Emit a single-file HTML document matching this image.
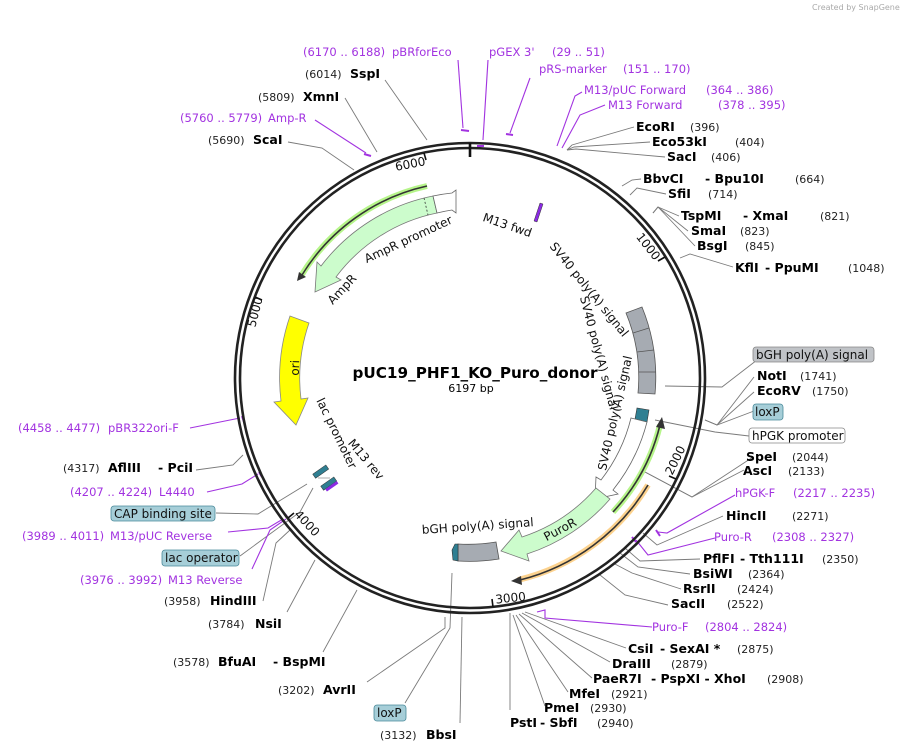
<!DOCTYPE html>
<html><head><meta charset="utf-8"><style>
html,body{margin:0;padding:0;background:#fff;}
svg{display:block;font-family:"DejaVu Sans","Liberation Sans",sans-serif;}
.b{font-weight:bold;font-size:12.5px;fill:#000}
.n{font-size:11px;fill:#222}
.p{font-size:11.5px;fill:#a233e0}
.i{font-size:12px;fill:#111}
.l{stroke:#7a7a7a;stroke-width:0.9;fill:none}
.pl{stroke:#a233e0;stroke-width:1.1;fill:none}
</style></head><body>
<svg width="909" height="753" viewBox="0 0 909 753" xmlns="http://www.w3.org/2000/svg">
<rect width="909" height="753" fill="#fff"/>
<text x="812" y="10" font-size="8" fill="#aaa">Created by SnapGene</text>

<g class="l">
<polyline points="385,80 427,140"/>
<polyline points="345,98 377,152"/>
<polyline points="288,142 322,148 354,170"/>
<polyline points="196,470 233,465 243,455"/>
<polyline points="216,513 258,514 307,484"/>
<polyline points="240,556 300,512 313,488"/>
<polyline points="263,601 276,543 290,530"/>
<polyline points="287,612 315,560"/>
<polyline points="323,652 357,590"/>
<polyline points="367,682 445,628 445,617"/>
<polyline points="405,703 450,628 452,573"/>
<polyline points="460,723 462,617"/>
<polyline points="510,710 510,613"/>
<polyline points="545,706 513,615"/>
<polyline points="568,692 516,615"/>
<polyline points="592,678 519,614"/>
<polyline points="610,662 522,613"/>
<polyline points="626,648 525,612"/>
<polyline points="600,575 625,595 668,605"/>
<polyline points="613,563 632,573 681,589"/>
<polyline points="620,553 638,567 690,574"/>
<polyline points="625,548 640,561 700,559"/>
<polyline points="643,533 657,545 723,516"/>
<polyline points="645,472 692,497 744,470"/>
<polyline points="645,472 692,497 753,457"/>
<polyline points="655,420 715,432 749,436"/>
<polyline points="705,420 717,425 754,377"/>
<polyline points="705,420 717,425 754,392"/>
<polyline points="705,420 717,425 754,411"/>
<polyline points="665,386 722,387 757,360"/>
<polyline points="680,258 690,254 733,267"/>
<polyline points="653,213 658,207 679,216"/>
<polyline points="653,213 658,207 688,231"/>
<polyline points="653,213 658,207 695,246"/>
<polyline points="630,195 637,188 666,194"/>
<polyline points="622,186 632,180 641,179"/>
<polyline points="567,150 572,145 634,127"/>
<polyline points="567,150 574,147 650,142"/>
<polyline points="567,150 576,149 665,157"/>
</g>
<g class="pl">
<polyline points="458,60 463,128"/><line x1="461" y1="130" x2="469" y2="131" stroke-width="2"/>
<polyline points="488,60 483,140"/><line x1="477" y1="146" x2="484" y2="146" stroke-width="2"/>
<polyline points="530,78 510,133"/><line x1="506" y1="134" x2="513" y2="135" stroke-width="2"/>
<polyline points="582,92 575,96 557,146"/>
<polyline points="605,105 580,115 562,148"/>
<polyline points="190,428 240,418"/><line x1="242" y1="416" x2="244" y2="422" stroke-width="2"/>
<polyline points="207,492 242,484 258,474"/><line x1="259" y1="472" x2="262" y2="477" stroke-width="2"/>
<polyline points="228,532 268,528 283,519"/><line x1="285" y1="514" x2="290" y2="521" stroke-width="2"/>
<polyline points="252,569 270,530 286,519"/>
<polyline points="315,120 366,153"/><line x1="364" y1="154" x2="371" y2="156" stroke-width="2"/>
<polyline points="735,495 667,533 658,532"/><line x1="656" y1="530" x2="660" y2="536" stroke-width="2"/>
<polyline points="715,538 648,555 636,540"/><line x1="632" y1="537" x2="636" y2="542" stroke-width="2"/>
<polyline points="652,627 545,618 545,610 537,612"/>
</g>

<circle cx="470" cy="378" r="235" fill="none" stroke="#222" stroke-width="2.6"/>
<circle cx="470" cy="378" r="230" fill="none" stroke="#222" stroke-width="2.6"/>
<line x1="470" y1="143" x2="470" y2="157" stroke="#111" stroke-width="2.6"/>
<g stroke="#111" stroke-width="1.6">
<line x1="665" y1="257" x2="658" y2="261"/>
<line x1="676" y1="479" x2="669" y2="476"/>
<line x1="493" y1="607" x2="492" y2="599"/>
<line x1="288" y1="518" x2="294" y2="513"/>
<line x1="255" y1="297" x2="262" y2="300"/>
<line x1="424" y1="153" x2="426" y2="160"/>
</g>
<g class="i">
<text transform="translate(411,168) rotate(-11)" text-anchor="middle">6000</text>
<text transform="translate(645,249) rotate(52)" text-anchor="middle">1000</text>
<text transform="translate(679,462) rotate(-64)" text-anchor="middle">2000</text>
<text transform="translate(511,602) rotate(-6)" text-anchor="middle">3000</text>
<text transform="translate(304,526) rotate(47)" text-anchor="middle">4000</text>
<text transform="translate(259,313) rotate(-76)" text-anchor="middle">5000</text>
</g>

<path d="M427,186 A197,197 0 0,0 301,276" fill="none" stroke="#b6f58a" stroke-width="6"/>
<path d="M427,186 A197,197 0 0,0 302,275" fill="none" stroke="#333" stroke-width="1.6"/>
<path d="M297,281 L299,272 L306,277 Z" fill="#333"/>
<path d="M433,196 A186,186 0 0,0 321,266 L317,262 L315,292 L341,280 L336,277 A168,168 0 0,1 437,213 Z" fill="#ccfccc" stroke="#777" stroke-width="0.8"/>
<path d="M433,196 A186,186 0 0,1 452,193 L456,190 L456,213 L452,210 A168,168 0 0,0 437,213 Z" fill="#fff" stroke="#666" stroke-width="0.8"/>
<line x1="424" y1="198" x2="428" y2="215" stroke="#333" stroke-width="0.8" stroke-dasharray="2,2"/>
<path d="M290,316 A190,190 0 0,0 281,401 L274,402 L296,425 L308,398 L301,399 A170,170 0 0,1 309,323 Z" fill="#ffff00" stroke="#888" stroke-width="0.8"/>
<path d="M534,221 L540,203 L543,204 L537,222 Z" fill="#8a2be2" stroke="#333" stroke-width="0.5"/>
<path d="M642,307 A186,186 0 0,1 655,394 L638,393 A169,169 0 0,0 626,313 Z" fill="#a6abb2" stroke="#555" stroke-width="0.8"/>
<g stroke="#555" stroke-width="0.8"><line x1="649" y1="328" x2="633" y2="333"/><line x1="654" y1="350" x2="637" y2="352"/><line x1="656" y1="372" x2="639" y2="372"/></g>
<path d="M649,410 L647,422 L635,419 L637,408 Z" fill="#2f7f92" stroke="#333" stroke-width="0.6"/>
<path d="M647,422 A182,182 0 0,1 613,490 L618,494 L595,499 L596,477 L601,480 A166,166 0 0,0 631,418 Z" fill="#fff" stroke="#666" stroke-width="0.8"/>
<path d="M613,512 A196,196 0 0,0 660,425" fill="none" stroke="#b6f58a" stroke-width="6"/>
<path d="M613,512 A196,196 0 0,0 660,425" fill="none" stroke="#333" stroke-width="1.6"/>
<path d="M662,417 L656,427 L665,429 Z" fill="#333"/>
<path d="M648,485 A208,208 0 0,1 518,580" fill="none" stroke="#fcd28e" stroke-width="6"/>
<path d="M648,485 A208,208 0 0,1 520,580" fill="none" stroke="#333" stroke-width="1.6"/>
<path d="M511,581 L521,576 L522,585 Z" fill="#333"/>
<path d="M610,499 A185,185 0 0,1 527,554 L529,561 L501,551 L519,530 L522,537 A167,167 0 0,0 596,488 Z" fill="#ccfccc" stroke="#777" stroke-width="0.8"/>
<path d="M499,559 A183,183 0 0,1 458,561 L458,544 A166,166 0 0,0 496,542 Z" fill="#a6abb2" stroke="#555" stroke-width="0.8"/>
<path d="M458,544 L458,561 L453,560 L452,550 L455,544 Z" fill="#2f7f92" stroke="#333" stroke-width="0.6"/>
<g transform="translate(321,472) rotate(-35)"><rect x="-8" y="-3" width="16" height="5" fill="#2f7f92" stroke="#333" stroke-width="0.5"/></g>
<g transform="translate(329,484) rotate(-35)"><rect x="-8" y="-3" width="16" height="5" fill="#2f7f92" stroke="#333" stroke-width="0.5"/><rect x="-6" y="2" width="14" height="3" fill="#8a2be2"/></g>
<line x1="318" y1="478" x2="330" y2="478" stroke="#777" stroke-width="0.6"/>

<g class="i">
<text transform="translate(410,243) rotate(-25)" text-anchor="middle">AmpR promoter</text>
<text transform="translate(345,292) rotate(-47)" text-anchor="middle">AmpR</text>
<text transform="translate(299,368) rotate(-88)" text-anchor="middle">ori</text>
<text transform="translate(506,229) rotate(19)" text-anchor="middle">M13 fwd</text>
<text transform="translate(586,292) rotate(51)" text-anchor="middle">SV40 poly(A) signal</text>
<text transform="translate(595,354) rotate(75)" text-anchor="middle">SV40 poly(A) signal</text>
<text transform="translate(619,414) rotate(-77)" text-anchor="middle">SV40 poly(A) signal</text>
<text transform="translate(333,435) rotate(64)" text-anchor="middle">lac promoter</text>
<text transform="translate(363,462) rotate(50)" text-anchor="middle">M13 rev</text>
<text transform="translate(562,533) rotate(-28)" text-anchor="middle">PuroR</text>
<text transform="translate(478,530) rotate(-4)" text-anchor="middle">bGH poly(A) signal</text>
</g>
<text x="475" y="378" text-anchor="middle" font-weight="bold" font-size="15" textLength="245" lengthAdjust="spacingAndGlyphs">pUC19_PHF1_KO_Puro_donor</text>
<text x="471" y="392" text-anchor="middle" font-size="11">6197 bp</text>

<text class="p" x="303" y="56">(6170 .. 6188)</text><text class="p" x="392" y="56">pBRforEco</text>
<text class="p" x="489" y="56">pGEX 3'</text><text class="p" x="552" y="56">(29 .. 51)</text>
<text class="p" x="539" y="73">pRS-marker</text><text class="p" x="623" y="73">(151 .. 170)</text>
<text class="p" x="584" y="94">M13/pUC Forward</text><text class="p" x="706" y="94">(364 .. 386)</text>
<text class="p" x="608" y="109">M13 Forward</text><text class="p" x="718" y="109">(378 .. 395)</text>
<text class="b" x="636" y="131">EcoRI</text><text class="n" x="690" y="131">(396)</text>
<text class="b" x="652" y="146">Eco53kI</text><text class="n" x="735" y="146">(404)</text>
<text class="b" x="667" y="161">SacI</text><text class="n" x="711" y="161">(406)</text>
<text class="b" x="643" y="183">BbvCI</text><text class="b" x="705" y="183">- Bpu10I</text><text class="n" x="795" y="183">(664)</text>
<text class="b" x="668" y="198">SfiI</text><text class="n" x="708" y="198">(714)</text>
<text class="b" x="681" y="220">TspMI</text><text class="b" x="743" y="220">- XmaI</text><text class="n" x="820" y="220">(821)</text>
<text class="b" x="691" y="235">SmaI</text><text class="n" x="740" y="235">(823)</text>
<text class="b" x="697" y="250">BsgI</text><text class="n" x="745" y="250">(845)</text>
<text class="b" x="735" y="272">KflI</text><text class="b" x="765" y="272">- PpuMI</text><text class="n" x="848" y="272">(1048)</text>

<rect x="753" y="347" width="121" height="15" rx="3" fill="#c0c3c7" stroke="#888" stroke-width="0.8"/>
<text class="i" x="756" y="359">bGH poly(A) signal</text>
<text class="b" x="757" y="380">NotI</text><text class="n" x="800" y="380">(1741)</text>
<text class="b" x="757" y="395">EcoRV</text><text class="n" x="812" y="395">(1750)</text>
<rect x="753" y="404" width="30" height="16" rx="3" fill="#a6ced8" stroke="#4a8a9a" stroke-width="0.8"/>
<text class="i" x="755" y="416">loxP</text>
<rect x="749" y="428" width="96" height="15" rx="3" fill="#fff" stroke="#888" stroke-width="0.8"/>
<text class="i" x="752" y="440">hPGK promoter</text>
<text class="b" x="746" y="461">SpeI</text><text class="n" x="792" y="461">(2044)</text>
<text class="b" x="743" y="475">AscI</text><text class="n" x="788" y="475">(2133)</text>
<text class="p" x="735" y="497">hPGK-F</text><text class="p" x="793" y="497">(2217 .. 2235)</text>
<text class="b" x="726" y="520">HincII</text><text class="n" x="792" y="520">(2271)</text>
<text class="p" x="714" y="541">Puro-R</text><text class="p" x="772" y="541">(2308 .. 2327)</text>
<text class="b" x="703" y="563">PflFI</text><text class="b" x="740" y="563">- Tth111I</text><text class="n" x="822" y="563">(2350)</text>
<text class="b" x="693" y="578">BsiWI</text><text class="n" x="748" y="578">(2364)</text>
<text class="b" x="683" y="593">RsrII</text><text class="n" x="737" y="593">(2424)</text>
<text class="b" x="671" y="608">SacII</text><text class="n" x="727" y="608">(2522)</text>
<text class="p" x="652" y="631">Puro-F</text><text class="p" x="705" y="631">(2804 .. 2824)</text>
<text class="b" x="628" y="653">CsiI</text><text class="b" x="660" y="653">- SexAI *</text><text class="n" x="737" y="653">(2875)</text>
<text class="b" x="612" y="668">DraIII</text><text class="n" x="671" y="668">(2879)</text>
<text class="b" x="593" y="683">PaeR7I</text><text class="b" x="651" y="683">- PspXI - XhoI</text><text class="n" x="767" y="683">(2908)</text>
<text class="b" x="569" y="698">MfeI</text><text class="n" x="611" y="698">(2921)</text>
<text class="b" x="544" y="712">PmeI</text><text class="n" x="590" y="712">(2930)</text>
<text class="b" x="510" y="727">PstI</text><text class="b" x="540" y="727">- SbfI</text><text class="n" x="597" y="727">(2940)</text>

<text class="n" x="380" y="739">(3132)</text><text class="b" x="426" y="739">BbsI</text>
<rect x="374" y="705" width="32" height="16" rx="3" fill="#a6ced8" stroke="#4a8a9a" stroke-width="0.8"/>
<text class="i" x="377" y="717">loxP</text>
<text class="n" x="278" y="694">(3202)</text><text class="b" x="323" y="694">AvrII</text>
<text class="n" x="173" y="666">(3578)</text><text class="b" x="218" y="666">BfuAI</text><text class="b" x="273" y="666">- BspMI</text>
<text class="n" x="208" y="628">(3784)</text><text class="b" x="255" y="628">NsiI</text>
<text class="n" x="164" y="605">(3958)</text><text class="b" x="210" y="605">HindIII</text>
<text class="p" x="80" y="584">(3976 .. 3992)</text><text class="p" x="168" y="584">M13 Reverse</text>
<rect x="162" y="550" width="77" height="16" rx="3" fill="#a6ced8" stroke="#4a8a9a" stroke-width="0.8"/>
<text class="i" x="165" y="562">lac operator</text>
<text class="p" x="22" y="540">(3989 .. 4011)</text><text class="p" x="110" y="540">M13/pUC Reverse</text>
<rect x="111" y="506" width="104" height="15" rx="3" fill="#a6ced8" stroke="#4a8a9a" stroke-width="0.8"/>
<text class="i" x="114" y="518">CAP binding site</text>
<text class="p" x="70" y="496">(4207 .. 4224)</text><text class="p" x="159" y="496">L4440</text>
<text class="n" x="63" y="472">(4317)</text><text class="b" x="108" y="472">AflIII</text><text class="b" x="158" y="472">- PciI</text>
<text class="p" x="18" y="432">(4458 .. 4477)</text><text class="p" x="108" y="432">pBR322ori-F</text>
<text class="n" x="208" y="144">(5690)</text><text class="b" x="253" y="144">ScaI</text>
<text class="p" x="180" y="122">(5760 .. 5779)</text><text class="p" x="268" y="122">Amp-R</text>
<text class="n" x="258" y="101">(5809)</text><text class="b" x="303" y="101">XmnI</text>
<text class="n" x="305" y="78">(6014)</text><text class="b" x="350" y="78">SspI</text>
</svg>
</body></html>
